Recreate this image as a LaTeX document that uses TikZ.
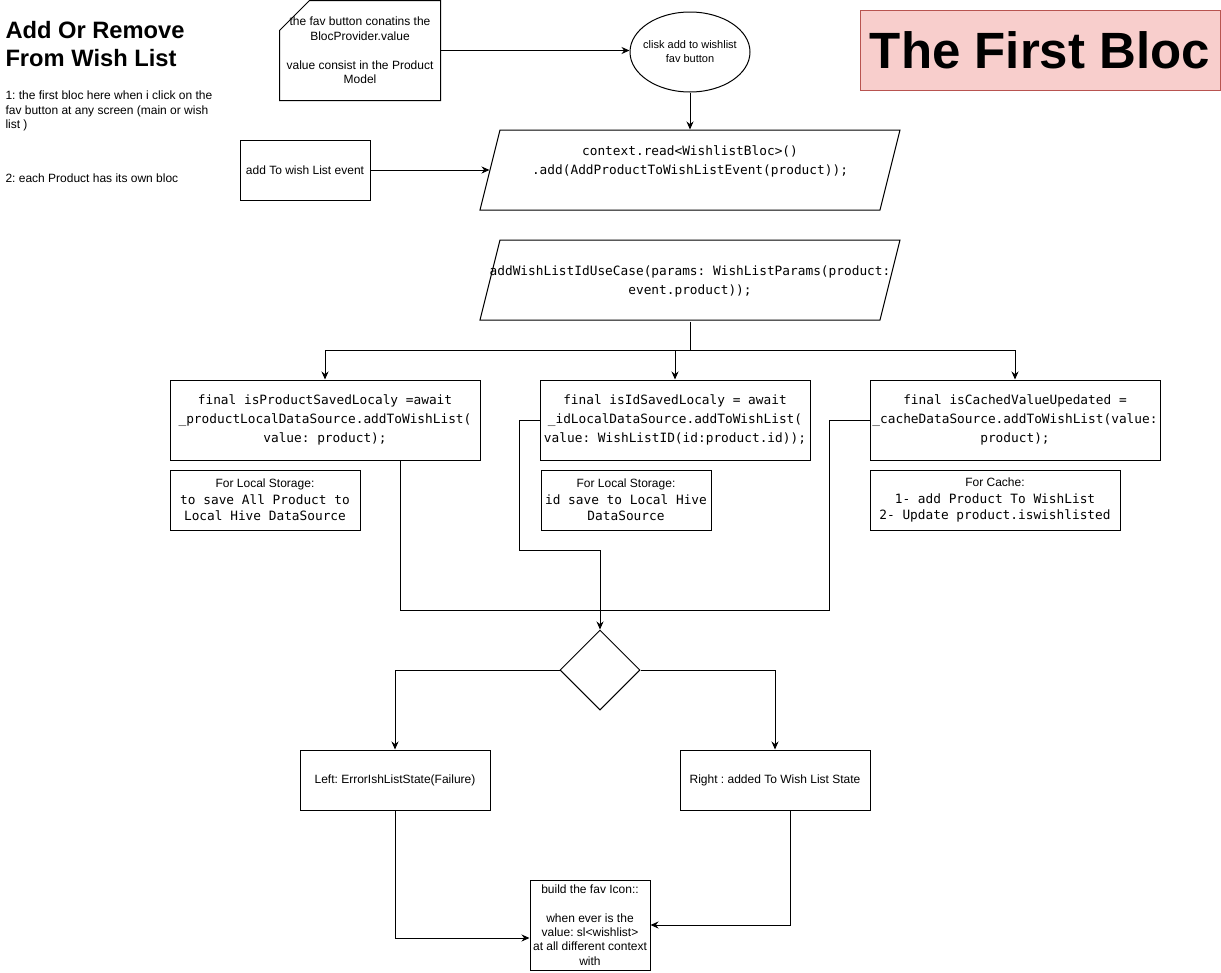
\documentclass[tikz,border=0pt]{standalone}
\usepackage{fontspec}
\setmainfont{Liberation Sans}
\newfontfamily\monof{DejaVu Sans Mono}
\usetikzlibrary{shapes.geometric,arrows.meta}
\definecolor{tfill}{HTML}{F8CECC}
\definecolor{tdraw}{HTML}{B85450}
\newcommand{\notehead}[1]{{\normalfont\fontsize{12}{16.5}\selectfont #1}}
\frenchspacing
\begin{document}
\frenchspacing
\begin{tikzpicture}[x=1pt,y=-1pt,line width=1pt,
  box/.style={draw, inner sep=0pt, align=center},
  sz12/.style={font=\fontsize{12}{14.4}\selectfont},
  code/.style={font=\monof\fontsize{12.8}{19}\selectfont},
  notef/.style={font=\monof\fontsize{12.8}{16.5}\selectfont},
  arr/.style={-{Stealth[length=8pt,width=7pt]}}]
\useasboundingbox (0,0) rectangle (1221,972);

% left texts
\node[anchor=west, inner sep=0pt, align=left, font=\bfseries\fontsize{23.7}{28}\selectfont] (title) at (5,44) {Add Or Remove\\From Wish List};
\node[anchor=west, inner sep=0pt, align=left, sz12] (info1) at (5,111) {1: the first bloc here when i click on the\\fav button at any screen (main or wish\\list )};
\node[anchor=west, inner sep=0pt, sz12] (info2) at (5,178) {2: each Product has its own bloc};

% card
\node[inner sep=0pt, minimum width=160pt, minimum height=99pt, align=center, sz12] (card) at (360,50.5) {the fav button conatins the\\BlocProvider.value\\[14.4pt]value consist in the Product\\Model};
\draw ([yshift=-30pt]card.north west) -- ([xshift=30pt]card.north west) -- (card.north east) -- (card.south east) -- (card.south west) -- cycle;

% ellipse
\node[draw, ellipse, inner sep=0pt, minimum width=120pt, minimum height=80pt] (ell) at (690,52) {};
\node[inner sep=0pt, align=center, font=\fontsize{11}{14}\selectfont] (elltext) at (ell.center) {clisk add to wishlist\\fav button};

% title box
\node[draw=tdraw, fill=tfill, minimum width=360pt, minimum height=80pt, inner sep=0pt, font=\bfseries\fontsize{51}{60}\selectfont] (bloc) at (1040,50) {The First Bloc};

% event
\node[box, sz12, minimum width=130pt, minimum height=60pt] (ev) at (305,170) {add To wish List event};

% parallelograms
\node[inner sep=0pt, minimum width=400pt, minimum height=80pt, align=center, code] (p1) at (690,170) {context.read<WishlistBloc>()\\.add(AddProductToWishListEvent(product));\\~};
\draw ([shift={(-210,40)}]p1.center) -- ([shift={(-190,-40)}]p1.center) -- ([shift={(210,-40)}]p1.center) -- ([shift={(190,40)}]p1.center) -- cycle;

\node[inner sep=0pt, minimum width=400pt, minimum height=80pt, align=center, code] (p2) at (690,281) {addWishListIdUseCase(params: WishListParams(product:\\event.product));};
\draw ([shift={(-210,39)}]p2.center) -- ([shift={(-190,-41)}]p2.center) -- ([shift={(210,-41)}]p2.center) -- ([shift={(190,39)}]p2.center) -- cycle;

% three boxes
\node[box, code, minimum width=310pt, minimum height=80pt] (bA) at (325,420) {final isProductSavedLocaly =await\\\_productLocalDataSource.addToWishList(\\value: product);};
\node[box, code, minimum width=270pt, minimum height=80pt] (bB) at (675,420) {final isIdSavedLocaly = await\\\_idLocalDataSource.addToWishList(\\value: WishListID(id:product.id));};
\node[box, code, minimum width=290pt, minimum height=80pt] (bC) at (1015,420) {final isCachedValueUpedated =\\\_cacheDataSource.addToWishList(value:\\product);};

% notes
\node[box, notef, minimum width=190pt, minimum height=60pt] (nA) at (265,500) {\notehead{For Local Storage:}\\to save All Product to\\Local Hive DataSource};
\node[box, notef, minimum width=170pt, minimum height=60pt] (nB) at (626,500) {\notehead{For Local Storage:}\\id save to Local Hive\\DataSource};
\node[box, notef, minimum width=250pt, minimum height=60pt] (nC) at (995,500) {\notehead{For Cache:}\\1- add Product To WishList\\2- Update product.iswishlisted};

% decision and results
\node[draw, diamond, aspect=1, minimum width=80pt, minimum height=80pt, inner sep=0pt] (dia) at (600,670) {};
\node[box, sz12, minimum width=190pt, minimum height=60pt] (eL) at (395,780) {Left: ErrorIshListState(Failure)};
\node[box, sz12, minimum width=190pt, minimum height=60pt] (eR) at (775,780) {Right : added To Wish List State};
\node[box, sz12, minimum width=120pt, minimum height=90pt] (fin) at (590,925) {build the fav Icon::\\[14.4pt]when ever is the\\value: sl<wishlist>\\at all different context\\with};

% coordinates
\coordinate (split) at (690,350);
\coordinate (k) at (600,550);
\coordinate (m) at (600,610);

% connectors
\draw[arr] (card.east) -- (card.east -| ell.west);
\draw[arr] (ell.south) -- (p1.north);
\draw[arr] (ev.east) -- (p1.west);
\draw (p2.south) -- (split);
\draw[arr] (split) -| (bA.north);
\draw[arr] (split) -| (bB.north);
\draw[arr] (split) -| (bC.north);
\draw ([xshift=75pt]bA.south) |- (m);
\draw (bB.west) -- ++(-20,0) |- (k);
\draw (bC.west) -- ++(-40,0) |- (m);
\draw[arr] (k) -- (dia.north);
\draw[arr] (dia.west) -| (eL.north);
\draw[arr] (dia.east) -| (eR.north);
\draw[arr] (eL.south) |- ([yshift=-13pt]fin.west);
\draw[arr] ([xshift=15pt]eR.south) |- (fin.east);
\end{tikzpicture}
\end{document}
